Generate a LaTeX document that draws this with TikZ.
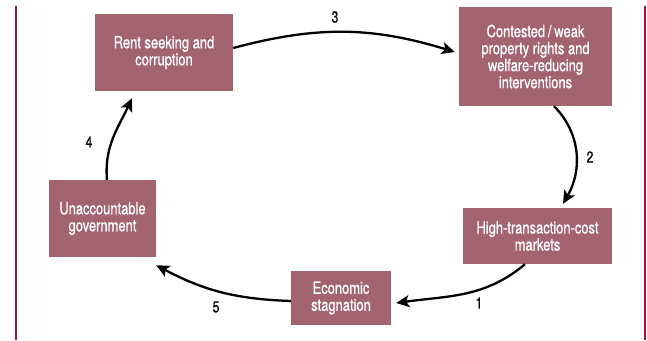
\documentclass[tikz,border=0pt]{standalone}
\usepackage{fontspec}
\setmainfont{TeX Gyre Heros}[FakeStretch=0.77,FakeBold=0.8]
\usetikzlibrary{arrows.meta}
\definecolor{boxfill}{HTML}{A36470}
\definecolor{rulecol}{HTML}{8B1E45}

\begin{document}
\begin{tikzpicture}[x=1pt,y=-1pt,>={Stealth[length=13pt,width=12pt,inset=3pt]}]
  \tikzset{
    stage/.style={fill=boxfill,text=white,align=center,inner sep=0pt,
      font=\fontsize{16.8}{17}\selectfont},
    flow/.style={->,line width=2.3pt},
    num/.style={font=\fontsize{16}{17}\selectfont}
  }
  \useasboundingbox (0,0) rectangle (647,340);
  \draw[rulecol,line width=2pt] (15.5,6) -- (15.5,340);
  \draw[rulecol,line width=2pt] (645,6) -- (645,340);
  % the five stages
  \node[stage,minimum width=138pt,minimum height=77pt] (rent) at (164,52.5) {Rent seeking and\\corruption};
  \node[stage,minimum width=153pt,minimum height=99pt] (contest) at (535.5,56.5) {Contested\,/\,weak\\property rights and\\welfare-reducing\\interventions};
  \node[stage,minimum width=149pt,minimum height=56pt] (hightc) at (537.5,236) {High-transaction-cost\\markets};
  \node[stage,minimum width=100pt,minimum height=54pt] (stagn) at (341,298) {Economic\\stagnation};
  \node[stage,minimum width=107pt,minimum height=77pt] (unacc) at (102.5,218.5) {Unaccountable\\government};
  % the cycle
  \draw[flow] ([yshift=4.5pt]rent.east) to[bend left=16] ([xshift=-4pt,yshift=4.5pt]contest.west);
  \draw[flow] ([xshift=18.5pt]contest.south) to[out=-45,in=60] ([xshift=25.5pt,yshift=4pt]hightc.north);
  \draw[flow] ([xshift=-12.5pt]hightc.south) to[out=-140,in=8] ([xshift=5pt,yshift=-5pt]stagn.east);
  \draw[flow] ([yshift=-3pt]stagn.west) to[out=178,in=-28] ([yshift=-8pt]unacc.south east);
  \draw[flow] ([xshift=4.5pt]unacc.north) to[out=95,in=-115] ([xshift=-32pt,yshift=-7pt]rent.south);
  \node[num] (n3) at (335,17) {3};
  \node[num] (n2) at (590,157) {2};
  \node[num] (n1) at (479,303) {1};
  \node[num] (n5) at (216,307) {5};
  \node[num] (n4) at (89,142) {4};
\end{tikzpicture}
\end{document}
